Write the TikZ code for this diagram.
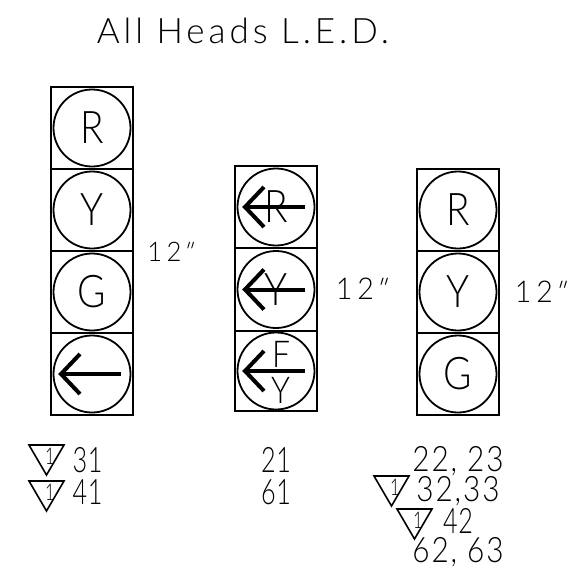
\documentclass[tikz,border=0pt]{standalone}
\usepackage{fontspec}
\setmainfont{Lato Light}
\newfontfamily\titlefont[LetterSpace=11.3]{Lato Light}
\newfontfamily\numfont[FakeStretch=0.72,LetterSpace=2]{Lato Light}
\newfontfamily\widefont[FakeStretch=0.85,LetterSpace=5.5]{Lato Light}
\newfontfamily\lampfont[FakeStretch=0.86]{Lato Light}
\newfontfamily\sizefont[FakeStretch=0.95,LetterSpace=16]{Lato Light}
\newfontfamily\inchfont[FakeSlant=0.3]{Lato Light}
\tikzset{
  housing/.style={draw,line width=2.4pt},
  lamp/.style={circle,draw,line width=1.8pt,minimum size=77pt,inner sep=0pt,font=\lampfont\fontsize{45pt}{45pt}\selectfont},
  shaft/.style={line width=4pt},
  revtri/.style={draw,line width=1.6pt,line join=miter},
  tag/.style={inner sep=0pt,font=\numfont\fontsize{35pt}{35pt}\selectfont},
  widetag/.style={inner sep=0pt,font=\widefont\fontsize{35pt}{35pt}\selectfont},
  sizetag/.style={inner sep=0pt,font=\sizefont\fontsize{30pt}{30pt}\selectfont},
  innertag/.style={inner sep=0pt,font=\lampfont\fontsize{37pt}{37pt}\selectfont},
}
\newcommand{\turnarrow}[1]{%
  \draw[shaft] ([xshift=-31pt]#1.center) -- ([xshift=29pt]#1.center);
  \draw[shaft] ([xshift=-12pt,yshift=20pt]#1.center) -- ([xshift=-31pt]#1.center) -- ([xshift=-12pt,yshift=-20pt]#1.center);
}
\newcommand{\revmark}[2]{%
  \draw[revtri] (#1,#2) -- ++(35,0) -- ++(-17.5,30) -- cycle;
  \node[inner sep=0pt,font=\numfont\fontsize{23pt}{23pt}\selectfont] at (#1+21,#2+11) {1};
}
\newcommand{\twelve}{12{\inchfont\fontsize{30pt}{30pt}\selectfont"}}
\begin{document}
\begin{tikzpicture}[x=1pt,y=-1pt]
\useasboundingbox (0,0) rectangle (574,579);

\node[inner sep=0pt,font=\titlefont\fontsize{35pt}{35pt}\selectfont] (title) at (243,31) {All Heads L.E.D.};

% left head
\draw[housing] (51,87) rectangle (133,415);
\draw[housing] (51,169) -- (133,169);
\draw[housing] (51,251) -- (133,251);
\draw[housing] (51,333) -- (133,333);
\node[lamp] (leftR) at (92,128) {R};
\node[lamp] (leftY) at (92,210) {Y};
\node[lamp] (leftG) at (92,292) {G};
\node[lamp] (leftA) at (92,374) {};
\turnarrow{leftA}
\node[sizetag,font=\sizefont\fontsize{27pt}{27pt}\selectfont] (leftsize) at (169,252) {12{\inchfont\fontsize{27pt}{27pt}\selectfont"}};

% middle head
\draw[housing] (235,166) rectangle (317,411);
\draw[housing] (235,248) -- (317,248);
\draw[housing] (235,331) -- (317,331);
\node[lamp] (midR) at (276,207) {R};
\node[lamp] (midY) at (276,289.5) {Y};
\node[lamp] (midF) at (276,371) {};
\node[innertag] (midFF) at (281,354) {F};
\node[innertag] (midFY) at (281,390) {Y};
\turnarrow{midR}
\turnarrow{midY}
\turnarrow{midF}
\node[sizetag] (midsize) at (360,289) {\twelve};

% right head
\draw[housing] (417,169) rectangle (499,415);
\draw[housing] (417,251) -- (499,251);
\draw[housing] (417,333) -- (499,333);
\node[lamp] (rightR) at (458,210) {R};
\node[lamp] (rightY) at (458,292) {Y};
\node[lamp] (rightG) at (458,374) {G};
\node[sizetag] (rightsize) at (539,292) {\twelve};

% head numbers
\revmark{29}{445}
\revmark{29}{481}
\node[tag] (n31) at (87.5,460) {31};
\node[tag] (n41) at (87.5,492) {41};
\node[tag] (n21) at (276,460) {21};
\node[tag] (n61) at (276,492) {61};
\node[widetag] (n22) at (458,461) {22, 23};
\revmark{374}{476}
\node[widetag] (n32) at (458,491) {32,33};
\revmark{397}{509}
\node[tag] (n42) at (458,521) {42};
\node[widetag] (n62) at (458,552) {62, 63};
\end{tikzpicture}
\end{document}
